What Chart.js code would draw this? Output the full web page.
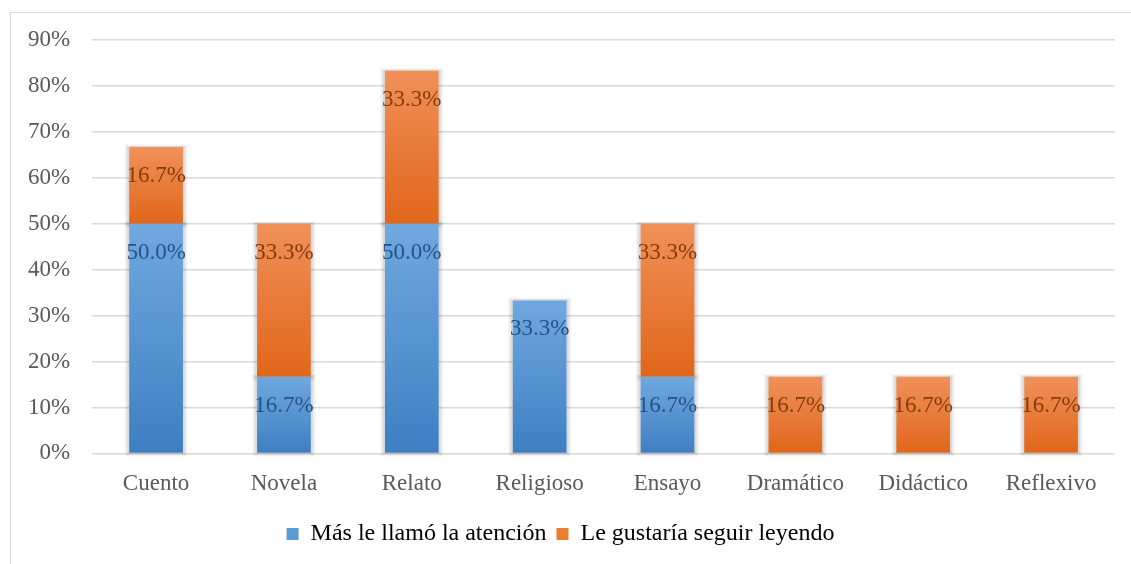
<!DOCTYPE html>
<html>
<head>
<meta charset="utf-8">
<script src="https://cdn.jsdelivr.net/npm/chart.js@4"></script>
<style>
  html, body { margin: 0; padding: 0; background: #fff; }
  #wrap { position: relative; width: 1131px; height: 564px; }
  #frame { position: absolute; left: 10px; top: 12px; width: 1140px; height: 560px; border: 1px solid #d9d9d9; box-sizing: border-box; }
  canvas { position: absolute; left: 0; top: 0; }
</style>
</head>
<body>
<div id="wrap">
  <div id="frame"></div>
  <canvas id="chart" width="1131" height="564"></canvas>
</div>
<script>
// categories and series (percent of responses)
const categories = ['Cuento', 'Novela', 'Relato', 'Religioso', 'Ensayo', 'Dramático', 'Didáctico', 'Reflexivo'];
const masLlamo = [50.0, 16.7, 50.0, 33.3, 16.7, 0, 0, 0];
const seguirLeyendo = [16.7, 33.3, 33.3, 0, 33.3, 16.7, 16.7, 16.7];
const seriesNames = ['Más le llamó la atención', 'Le gustaría seguir leyendo'];
const yTicks = [0, 10, 20, 30, 40, 50, 60, 70, 80, 90];

const FONT = "'Liberation Serif', 'Times New Roman', serif";

// light top -> dark bottom per segment, like an office-style gradient fill
function segmentGradient(top, bottom) {
  return (context) => {
    const chart = context.chart;
    const y = chart.scales.y;
    if (!chart.chartArea || !y || context.type !== 'data') return bottom;
    const i = context.dataIndex;
    const base = context.datasetIndex === 0 ? 0 : masLlamo[i];
    const val = context.datasetIndex === 0 ? masLlamo[i] : masLlamo[i] + seguirLeyendo[i];
    const y0 = y.getPixelForValue(val);
    const y1 = y.getPixelForValue(base);
    if (!isFinite(y0) || !isFinite(y1) || y0 === y1) return bottom;
    const g = chart.ctx.createLinearGradient(0, y0, 0, y1);
    g.addColorStop(0, top);
    g.addColorStop(1, bottom);
    return g;
  };
}

// soft grey halo around each bar, layered translucent rects under the bars
const barShadow = {
  id: 'barShadow',
  beforeDatasetsDraw(chart) {
    const ctx = chart.ctx;
    const layers = [[5, 0.035], [3.5, 0.05], [2, 0.07]];
    ctx.save();
    chart.data.datasets.forEach((ds, di) => {
      chart.getDatasetMeta(di).data.forEach((bar, i) => {
        if (!ds.data[i]) return;
        const p = bar.getProps(['x', 'y', 'base', 'width'], true);
        layers.forEach(([grow, alpha]) => {
          ctx.fillStyle = 'rgba(0,0,0,' + alpha + ')';
          ctx.fillRect(p.x - p.width / 2 - grow, p.y - grow * 0.5, p.width + grow * 2, p.base - p.y + grow * 1.3);
        });
      });
    });
    ctx.restore();
  }
};

// value labels just inside the top of each segment
const valueLabels = {
  id: 'valueLabels',
  afterDatasetsDraw(chart) {
    const ctx = chart.ctx;
    const colors = ['#245387', '#843c0c'];
    ctx.save();
    ctx.font = '23px ' + FONT;
    ctx.textAlign = 'center';
    ctx.textBaseline = 'middle';
    chart.data.datasets.forEach((ds, di) => {
      const meta = chart.getDatasetMeta(di);
      meta.data.forEach((bar, i) => {
        const v = ds.data[i];
        if (!v) return;
        ctx.fillStyle = colors[di];
        ctx.fillText(v.toFixed(1) + '%', bar.x, bar.y + 29);
      });
    });
    ctx.restore();
  }
};

new Chart(document.getElementById('chart').getContext('2d'), {
  type: 'bar',
  data: {
    labels: categories,
    datasets: [
      {
        label: seriesNames[0],
        data: masLlamo,
        backgroundColor: segmentGradient('#70a8de', '#3e7fc3'),
        borderWidth: 0,
        categoryPercentage: 0.84,
        barPercentage: 0.5
      },
      {
        label: seriesNames[1],
        data: seguirLeyendo,
        backgroundColor: segmentGradient('#f1905a', '#e0661a'),
        borderWidth: 0,
        categoryPercentage: 0.84,
        barPercentage: 0.5
      }
    ]
  },
  options: {
    responsive: false,
    animation: false,
    layout: { padding: { top: 40, left: 6, right: 16, bottom: 8 } },
    plugins: {
      legend: {
        position: 'bottom',
        labels: {
          font: { family: FONT, size: 24 },
          color: '#595959',
          boxWidth: 12,
          boxHeight: 12,
          padding: 10,
          generateLabels(chart) {
            return seriesNames.map((name, i) => ({
              text: name,
              fillStyle: i === 0 ? '#5b9bd5' : '#ed7d31',
              strokeStyle: 'transparent',
              lineWidth: 0,
              datasetIndex: i
            }));
          }
        }
      },
      tooltip: { enabled: false }
    },
    scales: {
      x: {
        stacked: true,
        grid: { display: false },
        border: { display: false },
        ticks: { font: { family: FONT, size: 23 }, color: '#595959', padding: 9 },
        afterFit(scale) { scale.height += 5; }
      },
      y: {
        stacked: true,
        min: 0,
        max: 90,
        afterBuildTicks(axis) { axis.ticks = yTicks.map(v => ({ value: v })); },
        grid: { color: '#d9d9d9', lineWidth: 1.5, drawTicks: false },
        border: { display: false },
        ticks: {
          font: { family: FONT, size: 23 },
          color: '#595959',
          padding: 22,
          callback: v => v + '%'
        }
      }
    }
  },
  plugins: [barShadow, valueLabels]
});
</script>
</body>
</html>
